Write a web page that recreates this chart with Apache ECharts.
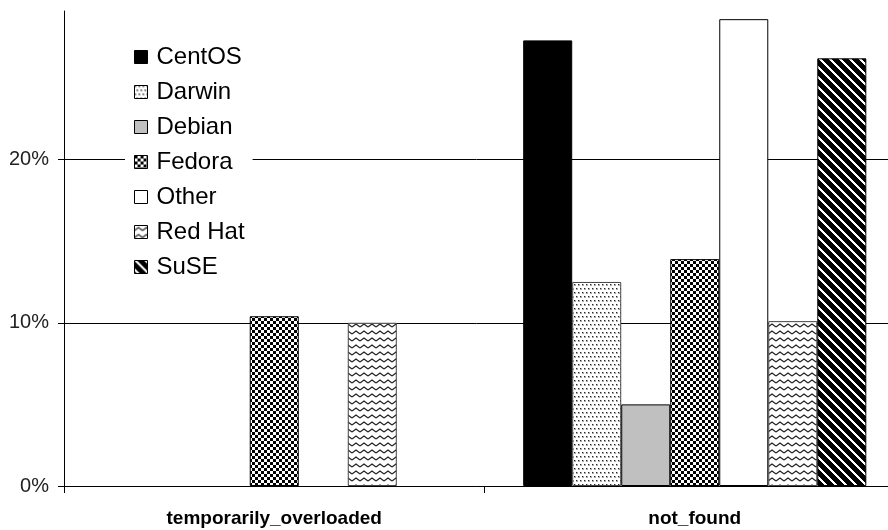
<!DOCTYPE html>
<html>
<head>
<meta charset="utf-8">
<script src="https://cdn.jsdelivr.net/npm/echarts@6/dist/echarts.min.js"></script>
<style>html,body{margin:0;padding:0;background:#fff}#c{width:888px;height:530px}</style>
</head>
<body>
<div id="c"></div>
<script>
// ---- data ----
var categories = ['temporarily_overloaded', 'not_found'];
var seriesNames = ['CentOS', 'Darwin', 'Debian', 'Fedora', 'Other', 'Red Hat', 'SuSE'];
var centos = [null, 27.3];
var darwin = [null, 12.5];
var debian = [null, 5.0];
var fedora = [10.4, 13.9];
var other = [null, 28.6];
var redhat = [10.0, 10.1];
var suse = [null, 26.2];
var yTicks = [0, 10, 20];

// ---- patterns (style only) ----
function tile(w, h, draw) {
  var c = document.createElement('canvas');
  c.width = w; c.height = h;
  var g = c.getContext('2d');
  g.fillStyle = '#fff'; g.fillRect(0, 0, w, h);
  draw(g, w, h);
  return { image: c, repeat: 'repeat' };
}
var patDots = tile(4, 8, function (g) {
  g.fillStyle = '#aaa';
  g.fillRect(0, 0, 2, 2);
  g.fillRect(2, 4, 2, 2);
  g.fillStyle = '#222';
  g.fillRect(0, 0, 1, 1);
  g.fillRect(2, 4, 1, 1);
});
var patCheck = tile(6, 6, function (g) {
  g.fillStyle = '#000';
  g.fillRect(0, 0, 3, 3);
  g.fillRect(3, 3, 3, 3);
});
var patZig = tile(8, 7, function (g) {
  g.strokeStyle = '#222'; g.lineWidth = 1.2;
  g.beginPath();
  g.moveTo(0, 5); g.lineTo(4, 2); g.lineTo(8, 5);
  g.stroke();
});
var patStripe = tile(10, 10, function (g, w, h) {
  var img = g.createImageData(w, h);
  for (var y = 0; y < h; y++) {
    for (var x = 0; x < w; x++) {
      var k = ((x - y) % 10 + 10) % 10;
      var v = k < 3 ? 255 : 0;
      var i = (y * w + x) * 4;
      img.data[i] = v; img.data[i + 1] = v; img.data[i + 2] = v; img.data[i + 3] = 255;
    }
  }
  g.putImageData(img, 0, 0);
});

var values = [centos, darwin, debian, fedora, other, redhat, suse];
var fills = ['#000', patDots, '#c0c0c0', patCheck, '#fff', patZig, patStripe];
var borders = ['#000', '#444', '#000', '#000', '#000', '#444', '#000'];

var FONT = 'Liberation Sans, Arial, sans-serif';

var chart = echarts.init(document.getElementById('c'), null, { renderer: 'canvas' });
chart.setOption({
  animation: false,
  backgroundColor: '#fff',
  grid: { left: 64, top: 11, width: 841, height: 475, containLabel: false, outerBoundsMode: 'none' },
  legend: {
    orient: 'vertical',
    left: 125,
    top: 40,
    padding: [5, 8, 5, 9],
    backgroundColor: '#fff',
    itemWidth: 13,
    itemHeight: 13,
    itemGap: 11,
    icon: 'rect',
    itemStyle: { borderColor: '#000', borderWidth: 1 },
    textStyle: { fontSize: 24, color: '#000', fontFamily: FONT, lineHeight: 24, padding: [0, 0, 0, 4] },
    data: seriesNames
  },
  xAxis: {
    type: 'category',
    data: categories,
    axisLine: { lineStyle: { color: '#000', width: 1 } },
    axisTick: { show: true, length: 7, interval: 0, lineStyle: { color: '#000' } },
    axisLabel: { fontSize: 19, fontWeight: 'bold', color: '#000', margin: 23, fontFamily: FONT, interval: 0 },
    splitLine: { show: false }
  },
  yAxis: {
    type: 'value',
    min: 0,
    max: 29.1,
    interval: 10,
    axisLine: { show: true, lineStyle: { color: '#000', width: 1 } },
    axisTick: { show: true, length: 6, lineStyle: { color: '#000' }, customValues: yTicks },
    axisLabel: {
      fontSize: 20, color: '#222', margin: 15, fontFamily: FONT,
      customValues: yTicks,
      formatter: function (v) { return Math.round(v) + '%'; }
    },
    splitLine: { show: true, lineStyle: { color: '#000', width: 1 } }
  },
  series: seriesNames.map(function (n, i) {
    return {
      name: n,
      type: 'bar',
      data: values[i],
      barGap: '0%',
      barCategoryGap: '18.4%',
      itemStyle: { color: fills[i], borderColor: borders[i], borderWidth: 1 },
      emphasis: { disabled: true }
    };
  })
});
</script>
</body>
</html>
